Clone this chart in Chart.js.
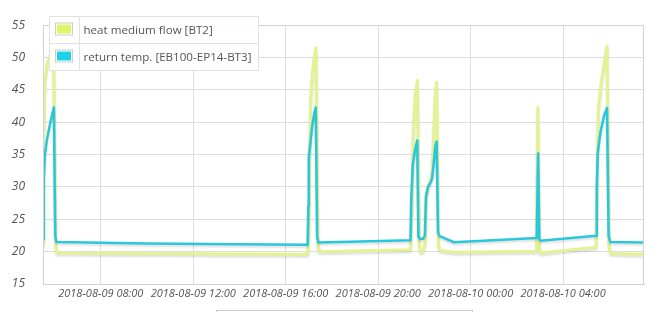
<!DOCTYPE html>
<html>
<head>
<meta charset="utf-8">
<script src="https://cdn.jsdelivr.net/npm/chart.js@4.4.1/dist/chart.umd.min.js"></script>
<style>
  html, body { margin: 0; padding: 0; background: #fff; }
  #wrap { position: relative; width: 667px; height: 312px; overflow: hidden; }
  #rangeBox { position: absolute; left: 216px; top: 310px; width: 255px; height: 20px; border: 1px solid #cfcfcf; }
</style>
</head>
<body>
<div id="wrap">
  <canvas id="tempChart" width="667" height="312"></canvas>
  <div id="rangeBox"></div>
</div>
<script>
// =============================
// Data (hours counted from 2018-08-09 00:00)
// =============================
const seriesNames = ["heat medium flow [BT2]", "return temp. [EB100-EP14-BT3]"];

const bt2Hours = [5.50, 5.53, 5.58, 5.68, 5.82, 5.96, 6.05, 6.10, 10.0, 14.0, 16.95,
  17.00, 17.04, 17.09, 17.17, 17.25, 17.31, 17.40, 17.46, 21.40, 21.46, 21.52, 21.60,
  21.70, 21.78, 21.85, 21.95, 22.04, 22.08, 22.20, 22.33, 22.40, 22.47, 22.53, 22.61,
  22.68, 23.30, 26.85, 26.91, 26.97, 27.02, 29.43, 29.47, 29.53, 29.65,
  29.80, 29.90, 29.99, 30.06, 31.50];
const bt2Values = [21.0, 38, 46, 49, 50.5, 51.2, 21, 19.8, 19.7, 19.65, 19.6,
  22, 36, 44, 48, 50.5, 51.5, 21, 20.0, 20.3, 26, 38, 44,
  46.5, 21, 19.9, 20.0, 21.5, 28.5, 30.5, 31.8, 38, 44, 46.2, 21,
  20.2, 19.9, 20.05, 42.3, 21, 19.8, 20.7, 30, 42, 46,
  49.5, 51.8, 21, 19.7, 19.6];

const bt3Hours = [5.50, 5.53, 5.58, 5.68, 5.82, 5.97, 6.03, 6.08, 10.0, 14.0, 16.95,
  16.98, 17.00, 17.06, 17.15, 17.24, 17.30, 17.36, 17.42, 21.40, 21.43, 21.50, 21.60,
  21.69, 21.74, 21.80, 21.95, 22.02, 22.07, 22.15, 22.28, 22.33, 22.40, 22.48, 22.53,
  22.59, 22.66, 23.28, 26.86, 26.92, 26.97, 27.02, 29.43, 29.46, 29.50, 29.62, 29.77,
  29.90, 29.97, 30.04, 31.50];
const bt3Values = [22.0, 31, 35, 37.5, 40, 42.3, 22.5, 21.5, 21.25, 21.15, 21.05,
  27, 34.5, 36.5, 39.5, 41.5, 42.3, 22.2, 21.4, 21.75, 28, 33.5, 35.8,
  37.2, 22.3, 22.0, 22.0, 22.5, 28.5, 30.0, 30.8, 31.3, 33.5, 36.5, 37,
  23, 22.4, 21.45, 22.1, 35.2, 22, 21.7, 22.45, 30, 35.3, 38.5, 41,
  42.2, 22.5, 21.5, 21.4];

const xTicks = [8, 12, 16, 20, 24, 28];
const xMin = 5.5;
const xMax = 31.5;
const yMin = 15;
const yMax = 55;

const lineColors = ["#e4f292", "#29c7dc"];
const swatchColors = ["#dff56c", "#1fd2ea"];

// =============================
// Helpers
// =============================
function toPoints(hours, values) {
  return hours.map((h, i) => ({ x: h, y: values[i] }));
}

function formatHour(h) {
  const day = 9 + Math.floor(h / 24);
  const hh = String(Math.round(h % 24)).padStart(2, "0");
  return "2018-08-" + String(day).padStart(2, "0") + " " + hh + ":00";
}

// shadow under the lines
const shadowPlugin = {
  id: "lineShadow",
  beforeDatasetDraw(chart) {
    const c = chart.ctx;
    c.save();
    c.shadowColor = "rgba(0,0,0,0.13)";
    c.shadowOffsetY = 2;
    c.shadowBlur = 2;
  },
  afterDatasetDraw(chart) {
    chart.ctx.restore();
  }
};

// frame + legend box
const framePlugin = {
  id: "frameLegend",
  afterDraw(chart) {
    const c = chart.ctx;
    const a = chart.chartArea;
    c.save();
    c.strokeStyle = "#d2d2d2";
    c.lineWidth = 1;
    c.strokeRect(Math.round(a.left) + 0.5, Math.round(a.top) + 0.5,
      Math.round(a.right - a.left) - 1, Math.round(a.bottom - a.top));

    // legend
    const lx = 49.5, ly = 16.5, lw = 209, rowH = 27;
    c.fillStyle = "rgba(255,255,255,0.92)";
    c.fillRect(lx, ly, lw, rowH * 2);
    c.strokeStyle = "#e2e2e2";
    c.strokeRect(lx, ly, lw, rowH * 2);
    c.beginPath();
    c.moveTo(79.5, ly);
    c.lineTo(79.5, ly + rowH * 2);
    c.moveTo(lx, ly + rowH);
    c.lineTo(lx + lw, ly + rowH);
    c.stroke();

    c.font = '11.6px "Open Sans"';
    c.textBaseline = "middle";
    seriesNames.forEach((name, i) => {
      const top = ly + i * rowH;
      c.strokeStyle = "#cccccc";
      c.strokeRect(55.5, top + 6.5, 17, 12);
      c.fillStyle = swatchColors[i];
      c.fillRect(57, top + 8, 14, 9);
      c.fillStyle = "#555555";
      c.fillText(name, 83.5, top + 14);
    });
    c.restore();
  }
};

// =============================
// Chart
// =============================
const ctx = document.getElementById("tempChart").getContext("2d");

new Chart(ctx, {
  type: "line",
  data: {
    datasets: [
      {
        label: seriesNames[0],
        data: toPoints(bt2Hours, bt2Values),
        borderColor: lineColors[0],
        borderWidth: 3,
        pointRadius: 0,
        tension: 0,
        borderJoinStyle: "round",
        fill: false,
        order: 2
      },
      {
        label: seriesNames[1],
        data: toPoints(bt3Hours, bt3Values),
        borderColor: lineColors[1],
        borderWidth: 2.5,
        pointRadius: 0,
        tension: 0,
        borderJoinStyle: "round",
        fill: false,
        order: 1
      }
    ]
  },
  options: {
    responsive: false,
    animation: false,
    devicePixelRatio: 1,
    layout: { padding: { top: 10, right: 23, left: 0, bottom: 0 } },
    plugins: {
      legend: { display: false },
      tooltip: { enabled: false }
    },
    scales: {
      x: {
        type: "linear",
        min: xMin,
        max: xMax,
        afterBuildTicks: scale => { scale.ticks = xTicks.map(v => ({ value: v })); },
        afterFit: scale => { scale.height = 28; },
        grid: { color: "#dedede", drawTicks: false },
        border: { color: "#d2d2d2" },
        ticks: {
          autoSkip: false,
          maxRotation: 0,
          padding: 3,
          color: "#555555",
          font: { family: "Open Sans", size: 11, style: "italic" },
          callback: v => formatHour(v)
        }
      },
      y: {
        min: yMin,
        max: yMax,
        afterFit: scale => { scale.width = 43; },
        grid: { color: "#dedede", drawTicks: false },
        border: { color: "#d2d2d2" },
        ticks: {
          stepSize: 5,
          padding: 18,
          color: "#555555",
          font: { family: "Open Sans", size: 12, style: "italic" }
        }
      }
    }
  },
  plugins: [shadowPlugin, framePlugin]
});
</script>
</body>
</html>
